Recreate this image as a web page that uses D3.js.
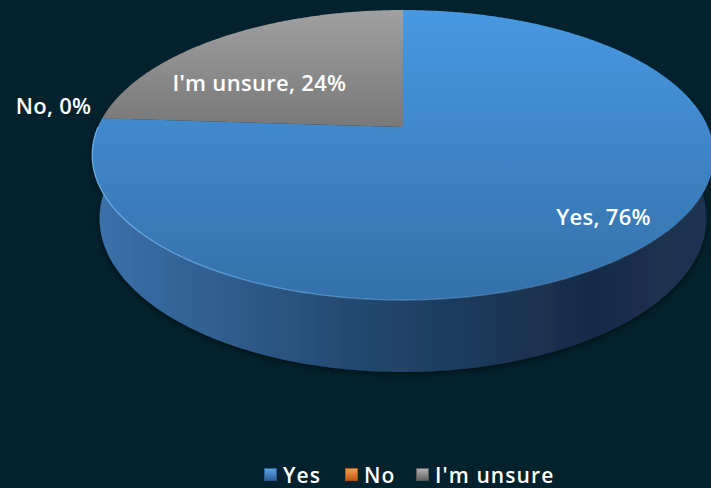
<!DOCTYPE html>
<html>
<head>
<meta charset="utf-8">
<script src="https://cdn.jsdelivr.net/npm/d3@7"></script>
<style>
  html, body { margin: 0; padding: 0; background: #03222d; }
  svg { display: block; }
  text { font-family: "Open Sans", "DejaVu Sans", sans-serif; fill: #ffffff; }
</style>
</head>
<body>
<svg id="chart" width="711" height="488"></svg>
<script>
// Survey answers
const categories = ["Yes", "No", "I'm unsure"];
const values = [76, 0, 24];
const percentLabels = ["76%", "0%", "24%"];

const W = 711, H = 488;
const svg = d3.select("#chart");

// ---- 3D perspective camera for a tilted disk ----
const R = 1;            // disk radius (world units)
const thick = 0.2355;   // disk thickness
const elev = 27.24 * Math.PI / 180;  // viewing elevation
const dist = 4.604;     // camera distance
const focal = 1404;     // projection focal length (px)
const cx = 403, cy = 127;   // screen position of disk centre (top face)

// theta: clockwise from 12 o'clock (far side), r: radius, z: height (0 = top face)
function project(theta, r, z) {
  const X = r * Math.sin(theta);
  const Y = -r * Math.cos(theta);
  const d = dist - (Y * Math.cos(elev) + z * Math.sin(elev));
  return [cx + focal * X / d, cy + focal * (Y * Math.sin(elev) - z * Math.cos(elev)) / d];
}

function rim(a0, a1, z, n) {
  const pts = [];
  const steps = Math.max(2, Math.ceil(Math.abs(a1 - a0) / (Math.PI / 180) * (n || 1)));
  for (let i = 0; i <= steps; i++) pts.push(project(a0 + (a1 - a0) * i / steps, R, z));
  return pts;
}

const line = d3.line().curve(d3.curveLinear);

const pie = d3.pie().sort(null).value(d => d)(values);

// ---- gradients & filters ----
const defs = svg.append("defs");
const topBlue = defs.append("linearGradient").attr("id", "topBlue")
  .attr("gradientUnits", "userSpaceOnUse").attr("x1", 0).attr("y1", 9).attr("x2", 0).attr("y2", 300);
topBlue.append("stop").attr("offset", 0).attr("stop-color", "#4899e2");
topBlue.append("stop").attr("offset", 1).attr("stop-color", "#3470aa");

const topGray = defs.append("linearGradient").attr("id", "topGray")
  .attr("gradientUnits", "userSpaceOnUse").attr("x1", 0).attr("y1", 9).attr("x2", 0).attr("y2", 130);
topGray.append("stop").attr("offset", 0).attr("stop-color", "#a0a0a0");
topGray.append("stop").attr("offset", 1).attr("stop-color", "#777777");

const topOrange = defs.append("linearGradient").attr("id", "topOrange")
  .attr("gradientUnits", "userSpaceOnUse").attr("x1", 0).attr("y1", 9).attr("x2", 0).attr("y2", 300);
topOrange.append("stop").attr("offset", 0).attr("stop-color", "#f08a2c");
topOrange.append("stop").attr("offset", 1).attr("stop-color", "#c0621a");

const wallBlue = defs.append("linearGradient").attr("id", "wallBlue")
  .attr("gradientUnits", "userSpaceOnUse").attr("x1", 92).attr("y1", 0).attr("x2", 714).attr("y2", 0);
wallBlue.append("stop").attr("offset", 0).attr("stop-color", "#3b72ab");
wallBlue.append("stop").attr("offset", 0.45).attr("stop-color", "#22466c");
wallBlue.append("stop").attr("offset", 0.8).attr("stop-color", "#182b47");
wallBlue.append("stop").attr("offset", 1).attr("stop-color", "#1d3453");

const shadow = defs.append("filter").attr("id", "shadow")
  .attr("x", "-10%").attr("y", "-10%").attr("width", "120%").attr("height", "130%");
shadow.append("feDropShadow").attr("dx", 0).attr("dy", 2).attr("stdDeviation", 3)
  .attr("flood-color", "#000").attr("flood-opacity", 0.55);

const topFills = ["url(#topBlue)", "url(#topOrange)", "url(#topGray)"];
const wallFills = ["url(#wallBlue)", "#8a4a14", "#555"];

// legend marker gradients
const markerColors = [["#5aa6ea", "#2c5f94"], ["#f5a050", "#b85a14"], ["#b4b4b4", "#606060"]];
markerColors.forEach((c, i) => {
  const g = defs.append("linearGradient").attr("id", "mk" + i)
    .attr("x1", 0).attr("y1", 0).attr("x2", 0).attr("y2", 1);
  g.append("stop").attr("offset", 0).attr("stop-color", c[0]);
  g.append("stop").attr("offset", 1).attr("stop-color", c[1]);
});

// ---- side wall (front half, visible part) ----
const pieG = svg.append("g");
const wallG = pieG.append("g").attr("filter", "url(#shadow)");
pie.forEach((p, i) => {
  // clip each slice's outer wall to the front half plus a small margin
  const a0 = Math.max(p.startAngle, Math.PI * 0.42);
  const a1 = Math.min(p.endAngle, Math.PI * 1.58);
  if (a1 <= a0) return;
  const pts = rim(a0, a1, 0).concat(rim(a1, a0, -thick));
  wallG.append("path").attr("d", line(pts) + "Z").attr("fill", wallFills[i]);
});

// ---- top face ----
const topG = pieG.append("g");
pie.forEach((p, i) => {
  if (p.endAngle - p.startAngle <= 0) return;
  const pts = [project(0, 0, 0)].concat(rim(p.startAngle, p.endAngle, 0, 2));
  topG.append("path").attr("d", line(pts) + "Z").attr("fill", topFills[i]);
});

// soft highlight on the front rim, strongest on the left
const hl = defs.append("linearGradient").attr("id", "rimHl")
  .attr("gradientUnits", "userSpaceOnUse").attr("x1", 92).attr("y1", 0).attr("x2", 714).attr("y2", 0);
hl.append("stop").attr("offset", 0).attr("stop-color", "#7abcf4").attr("stop-opacity", 0.8);
hl.append("stop").attr("offset", 0.6).attr("stop-color", "#7abcf4").attr("stop-opacity", 0.35);
hl.append("stop").attr("offset", 1).attr("stop-color", "#7abcf4").attr("stop-opacity", 0.1);
topG.append("path")
  .attr("d", line(rim(Math.PI * 0.55, Math.PI * 1.5, 0, 2)))
  .attr("fill", "none").attr("stroke", "url(#rimHl)").attr("stroke-width", 1.3);

// ---- data labels ----
const labelG = svg.append("g").attr("font-size", 22).attr("font-weight", 600)
  .attr("letter-spacing", 0.3);
function mid(p) { return (p.startAngle + p.endAngle) / 2; }
// Yes: inside, toward the front right
{
  const p = pie[0], [x, y] = project(mid(p), 0.85, 0);
  labelG.append("text").attr("x", x - 1).attr("y", y).attr("text-anchor", "middle")
    .text(categories[0] + ", " + percentLabels[0]);
}
// No: zero slice, placed just outside its boundary
{
  const p = pie[1], [x, y] = project(p.startAngle, 1.05, 0);
  labelG.append("text").attr("x", x + 4).attr("y", y - 4).attr("text-anchor", "end")
    .text(categories[1] + ", " + percentLabels[1]);
}
// I'm unsure: inside the back-left slice
{
  const p = pie[2], [x, y] = project(mid(p), 0.75, 0);
  labelG.append("text").attr("x", x - 2).attr("y", y + 33).attr("text-anchor", "middle")
    .text(categories[2] + ", " + percentLabels[2]);
}

// ---- legend ----
const legend = svg.append("g").attr("font-size", 21).attr("font-weight", 600)
  .attr("letter-spacing", 1.1);
const legendX = d3.scaleOrdinal().domain(categories).range([264, 345, 416]);
categories.forEach((c, i) => {
  const g = legend.append("g").attr("transform", `translate(${legendX(c)},468)`);
  g.append("rect").attr("x", 0.5).attr("y", 0.5).attr("width", 12).attr("height", 12)
    .attr("fill", "url(#mk" + i + ")")
    .attr("stroke", markerColors[i][1]).attr("stroke-width", 0.8);
  g.append("text").attr("x", 19).attr("y", 15).text(c);
});
</script>
</body>
</html>
